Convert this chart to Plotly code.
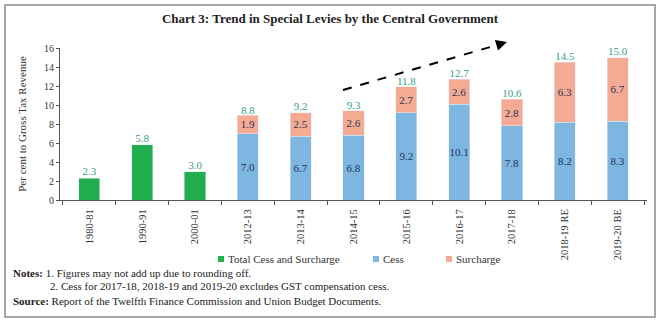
import plotly.graph_objects as go

categories = ["1980-81", "1990-91", "2000-01", "2012-13", "2013-14", "2014-15",
              "2015-16", "2016-17", "2017-18", "2018-19 RE", "2019-20 BE"]
total_only = [2.3, 5.8, 3.0, None, None, None, None, None, None, None, None]
cess = [None, None, None, 7.0, 6.7, 6.8, 9.2, 10.1, 7.8, 8.2, 8.3]
surcharge = [None, None, None, 1.9, 2.5, 2.6, 2.7, 2.6, 2.8, 6.3, 6.7]
totals = [2.3, 5.8, 3.0, 8.8, 9.2, 9.3, 11.8, 12.7, 10.6, 14.5, 15.0]
series_names = ["Total Cess and Surcharge", "Cess", "Surcharge"]

W, H = 660, 322
L, R, T, B = 60, 647, 48, 200

def px(x):
    return (x - L) / (R - L)

def py(y):
    return (B - y) / (B - T)

FONT = "Liberation Serif"
GREEN = "#22ad4f"
BLUE = "#7db6e0"
SALMON = "#f5aa94"
TEAL = "#3a9f82"
DARK = "#1f3555"
colors = [GREEN, BLUE, SALMON]

fig = go.Figure()
fig.add_trace(go.Bar(x=categories, y=total_only, name=series_names[0],
                     marker_color=GREEN, width=0.4, showlegend=False))
fig.add_trace(go.Bar(x=categories, y=cess, name=series_names[1], marker_color=BLUE, width=0.4,
                     texttemplate="%{y:.1f}", textposition="inside", showlegend=False,
                     insidetextanchor="middle", textangle=0, constraintext="none",
                     textfont=dict(color=DARK, size=11, family=FONT)))
fig.add_trace(go.Bar(x=categories, y=surcharge, name=series_names[2], marker_color=SALMON,
                     width=0.4, texttemplate="%{y:.1f}", textposition="inside",
                     insidetextanchor="middle", textangle=0, constraintext="none",
                     showlegend=False,
                     textfont=dict(color=DARK, size=11, family=FONT)))

fig.add_trace(go.Scatter(x=categories, y=totals, mode="text",
                         text=[f"{v:.1f}" for v in totals], textposition="top center",
                         textfont=dict(color=TEAL, size=11, family=FONT),
                         showlegend=False, cliponaxis=False, hoverinfo="skip"))

# legend (small squares + labels, as in the original)
legend_x = [221, 376, 449]
legend_y = 259
for cx, name, col in zip(legend_x, series_names, colors):
    fig.add_shape(type="rect", xref="paper", yref="paper",
                  x0=px(cx - 3), x1=px(cx + 3), y0=py(legend_y + 3), y1=py(legend_y - 3),
                  line=dict(width=0), fillcolor=col)
    fig.add_annotation(xref="paper", yref="paper", x=px(cx + 5), y=py(legend_y),
                       xanchor="left", yanchor="middle", text=name, showarrow=False,
                       font=dict(family=FONT, size=11, color="#333"))

# dashed trend arrow
fig.add_shape(type="line", xref="paper", yref="paper",
              x0=px(343), y0=py(90), x1=px(497), y1=py(45),
              line=dict(color="black", width=2, dash="dash"))
fig.add_annotation(xref="paper", yref="paper", x=px(507), y=py(42), ax=-11, ay=3.3,
                   text="", showarrow=True, arrowhead=2, arrowsize=1.1, arrowwidth=2,
                   arrowcolor="black")

# outer border
fig.add_shape(type="rect", xref="paper", yref="paper",
              x0=px(5), y0=py(317), x1=px(655), y1=py(5),
              line=dict(color="#8a8a8a", width=1.5))

notes = [
    (11, 273, "<b>Notes:</b> 1. Figures may not add up due to rounding off."),
    (48, 286, "2. Cess for 2017-18, 2018-19 and 2019-20 excludes GST compensation cess."),
    (11, 301, "<b>Source:</b> Report of the Twelfth Finance Commission and Union Budget Documents."),
]
for x, y, t in notes:
    fig.add_annotation(xref="paper", yref="paper", x=px(x), y=py(y), xanchor="left",
                       yanchor="middle", text=t, showarrow=False,
                       font=dict(family=FONT, size=11, color="#222"))

fig.update_layout(
    width=W, height=H,
    margin=dict(l=L, r=W - R, t=T, b=H - B),
    barmode="stack",
    uniformtext=dict(mode="show", minsize=10),
    plot_bgcolor="white", paper_bgcolor="white",
    font=dict(family=FONT, size=10, color="#333"),
    title=dict(text="<b>Chart 3: Trend in Special Levies by the Central Government</b>",
               x=0.5, xref="container", xanchor="center", y=1 - 18 / H, yanchor="middle",
               font=dict(family=FONT, size=13, color="#222")),
    showlegend=False,
)
fig.update_xaxes(type="category", showline=True, linecolor="#555", linewidth=1,
                 ticks="outside", tickson="boundaries", ticklen=4, tickcolor="#555",
                 tickangle=-90, ticklabelstandoff=4,
                 tickfont=dict(family=FONT, size=10.5, color="#333"),
                 showgrid=False)
fig.update_yaxes(range=[0, 16], dtick=2, showline=True, linecolor="#555", linewidth=1,
                 ticks="outside", ticklen=3, tickcolor="#555", showgrid=False,
                 zeroline=False, tickfont=dict(family=FONT, size=10, color="#333"),
                 title=dict(text="Per cent to Gross Tax Revenue", standoff=15,
                            font=dict(family=FONT, size=11, color="#333")))

fig.write_html("out.html")
